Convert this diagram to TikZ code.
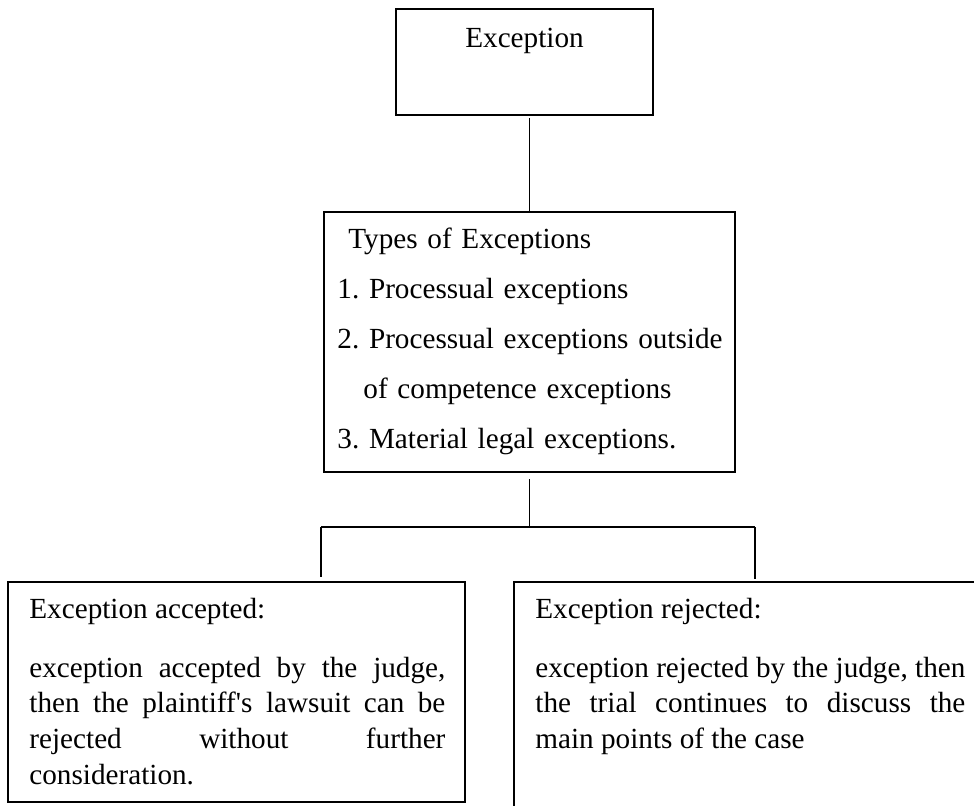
\documentclass[tikz,border=0pt]{standalone}
\usepackage{fontspec}
\setmainfont{Liberation Serif}
\usetikzlibrary{positioning}
\frenchspacing
\newcommand{\exfont}{\fontsize{14.6}{17.85}\selectfont}
\newcommand{\listfont}{\fontsize{14.6}{25}\selectfont}
\tikzset{
	box/.style={draw, line width=1pt, inner sep=0pt},
	link/.style={line width=0.6pt},
	txt/.style={inner sep=0pt, font=\exfont},
}
\begin{document}
\begin{tikzpicture}[x=0.5pt, y=-0.5pt]
			\useasboundingbox (0,0) rectangle (974,805);
			\clip (0,0) rectangle (974,805);
			
			% boxes
			\node[box, minimum width=128.5pt, minimum height=53pt] (exception) at (524.5,62) {};
			\node[box, minimum width=205.5pt, minimum height=130pt] (types) at (529.5,342) {};
			\node[box, minimum width=228.5pt, minimum height=110pt] (accepted) at (236.5,692) {};
			\node[box, minimum width=243pt, minimum height=124pt] (rejected) at (757,706) {};
			
			% texts
			\node[txt, anchor=base] (exctext) at (524.5,47) {Exception};
			\node[txt, font=\listfont, anchor=base west, text width=200pt, align=left] (typestext) at (337,248)
				{\hspace*{5.5pt}Types of Exceptions\\
				1. Processual exceptions\\
				2. Processual exceptions outside\\
				\hspace*{13pt}of competence exceptions\\
				3. Material legal exceptions.};
			\node[txt, anchor=base west] (acchead) at (29,618) {Exception accepted:};
			\node[txt, anchor=base west, text width=208pt, align=justify] (acctext) at (29,677)
				{exception accepted by the judge,\linebreak then the plaintiff\textquotesingle s lawsuit can be\linebreak rejected without further\linebreak consideration.};
			\node[txt, anchor=base west] (rejhead) at (535,618) {Exception rejected:};
			\node[txt, anchor=base west, text width=215pt, align=justify] (rejtext) at (535,677)
				{exception rejected by the judge, then\linebreak the trial continues to discuss the\linebreak main points of the case};
			
			% connectors
			\coordinate (split) at (529.5,527);
			\coordinate (lfork) at (321,527);
			\coordinate (rfork) at (755,527);
			\draw[link, shorten <=1pt] (types.north |- exception.south) -- (types.north);
			\draw[link, shorten <=3pt] (types.south) -- (split);
			\draw[link] (lfork) -- (rfork);
			\draw[link, shorten >=2pt] (lfork) -- (lfork |- accepted.north);
			\draw[link, shorten >=1pt] (rfork) -- (rfork |- rejected.north);
		\end{tikzpicture}
\end{document}
